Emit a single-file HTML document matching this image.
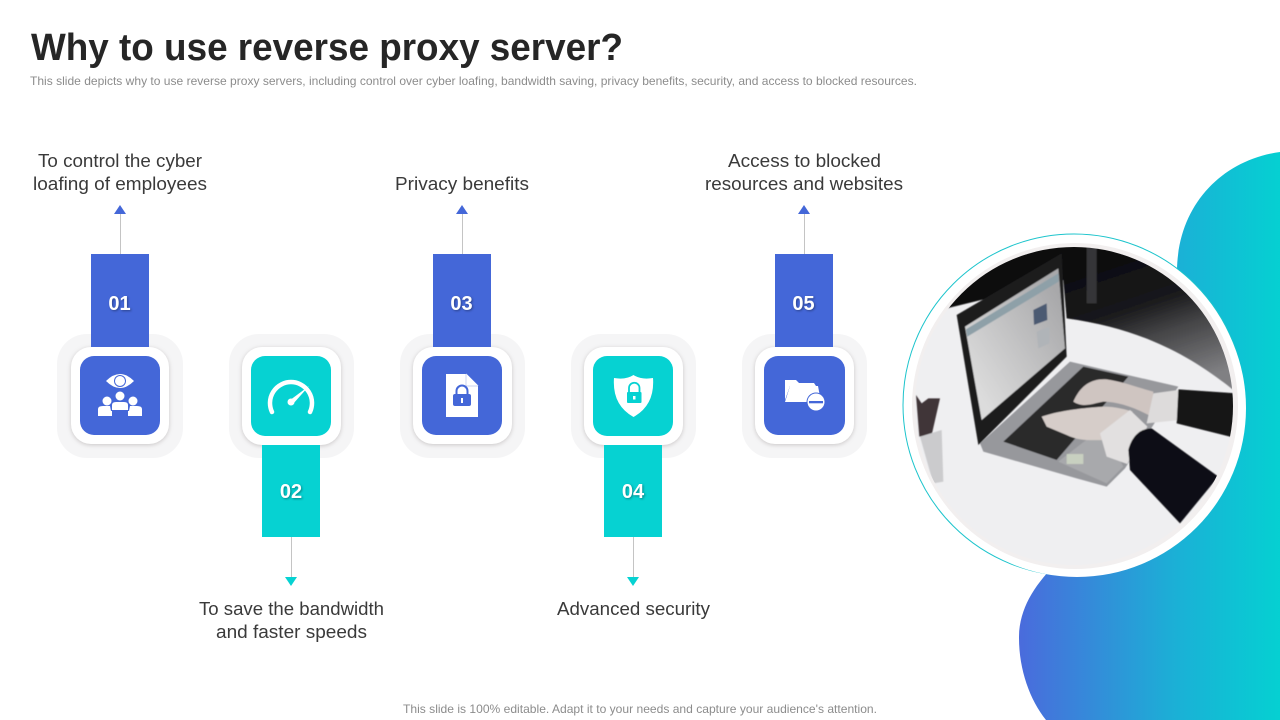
<!DOCTYPE html>
<html><head><meta charset="utf-8"><style>
html,body{margin:0;padding:0;background:#fff;width:1280px;height:720px;overflow:hidden}
svg{display:block}
text{font-family:"Liberation Sans",sans-serif}
.l{font-size:18px;fill:#3a3a3a}
.n{font-size:20px;font-weight:bold;fill:#fff;filter:drop-shadow(1px 1px 1px rgba(0,0,0,.35))}
.s{font-size:12px;fill:#8c8c8c}
.w{filter:drop-shadow(0 1px 2px rgba(90,80,80,.28))}
</style></head><body>
<svg width="1280" height="720" viewBox="0 0 1280 720" xmlns="http://www.w3.org/2000/svg">
<defs>
<linearGradient id="g" gradientUnits="userSpaceOnUse" x1="1019" y1="0" x2="1280" y2="0"><stop offset="0" stop-color="#4a6bdc"/><stop offset=".6" stop-color="#1bb0d6"/><stop offset="1" stop-color="#05d0d2"/></linearGradient>
<linearGradient id="dk" gradientUnits="userSpaceOnUse" x1="720" y1="320" x2="860" y2="740"><stop offset="0" stop-color="#0c0c0e"/><stop offset=".4" stop-color="#1a1a1c"/><stop offset=".62" stop-color="#454547"/><stop offset="1" stop-color="#808083"/></linearGradient>
<linearGradient id="sc" gradientUnits="userSpaceOnUse" x1="225" y1="700" x2="530" y2="500"><stop offset="0" stop-color="#dcdcdc"/><stop offset="1" stop-color="#a8a8aa"/></linearGradient>
<clipPath id="c"><circle cx="1074" cy="406" r="159"/></clipPath>
<filter id="b" x="-5%" y="-5%" width="110%" height="110%"><feGaussianBlur stdDeviation="1.800"/></filter>
</defs>

<text x="31" y="60" font-size="38" font-weight="bold" fill="#262626" textLength="592" lengthAdjust="spacingAndGlyphs">Why to use reverse proxy server?</text>
<text class="s" x="30" y="85" textLength="887" lengthAdjust="spacingAndGlyphs">This slide depicts why to use reverse proxy  servers, including control over cyber loafing, bandwidth saving, privacy  benefits, security, and access to blocked resources.</text>

<!-- blob -->
<path d="M1280 152 C1222 160 1178 205 1177 270 L1177 460 C1130 520 1019 560 1019 638 C1019 670 1030 700 1046 720 L1280 720 Z" fill="url(#g)"/>

<!-- photo -->
<circle cx="1074" cy="405" r="171" fill="#fff" stroke="#1cc4cc" stroke-width="1"/>
<circle cx="1077" cy="408" r="169" fill="#fff"/>
<circle cx="1075" cy="406" r="163" fill="#f2efef"/>
<g clip-path="url(#c)">
<rect x="900" y="230" width="350" height="350" fill="#efeff1"/>
<g transform="translate(890 140) scale(.33333)" filter="url(#b)">
<path d="M150 510 L150 260 L1080 260 L1080 790 L1030 750 C900 645 750 565 530 535 L520 420 Z" fill="url(#dk)"/>
<path d="M590 320 h30 v170 h-30 Z" fill="#353537"/>
<path d="M270 910 L540 665 L865 740 L705 985 L650 1040 L560 1015 L280 935 Z" fill="#97989c"/>
<path d="M340 905 L580 680 L715 710 L500 960 Z" fill="#29292b"/>
<path d="M505 965 L640 860 L700 980 L650 1030 Z" fill="#a8a9ac"/>
<path d="M530 942 h50 v30 h-50 Z" fill="#c8d0c0"/>
<path d="M200 525 L515 340 L530 650 L265 915 Z" fill="#1c1c1e"/>
<path d="M225 560 L505 385 L525 625 L275 840 Z" fill="url(#sc)"/>
<path d="M228 568 L505 400 L506 425 L232 590 Z" fill="#8ea0a8"/>
<path d="M430 510 L470 490 L472 540 L432 555 Z" fill="#4c5a72"/>
<path d="M440 575 L478 560 L478 610 L445 625 Z" fill="#b0b4b8"/>
<path d="M550 785 C570 740 600 715 650 718 C700 725 750 745 790 755 L785 830 C730 800 680 785 640 785 C610 790 580 805 550 785Z" fill="#cfc5c1"/>
<path d="M455 830 C500 815 560 805 640 800 C680 800 710 810 728 815 L650 900 C610 900 570 905 530 885 L470 860 Z" fill="#d6cdc9"/>
<path d="M790 760 L865 750 L868 840 L770 850 Z" fill="#dddbdb"/>
<path d="M630 880 L720 810 L772 860 L712 972 L650 950 Z" fill="#e2e0e0"/>
<path d="M865 748 L1040 760 L1040 895 L860 850 Z" fill="#121214"/>
<path d="M715 930 C725 890 750 865 785 865 L985 1010 L870 1150 L720 990 Z" fill="#111113"/>
<path d="M78 765 L95 790 L115 775 L150 775 L125 885 L88 890 Z" fill="#403638"/>
<path d="M90 890 L155 870 L160 1025 L130 1030 Z" fill="#cbcbcd"/>
</g>
</g>

<!-- connectors -->
<g stroke="#c4c4c4" stroke-width="1">
<path d="M120.500 214V254M462.500 214V254M804.500 214V254M291.500 537V577M633.500 537V577"/>
</g>
<path d="M120 205l6 9h-12zM462 205l6 9h-12zM804 205l6 9h-12z" fill="#4467d8"/>
<path d="M291 586l-6-9h12zM633 586l-6-9h12z" fill="#06d2d2"/>

<!-- plates -->
<g fill="#f5f5f6">
<rect x="57" y="334" width="126" height="124" rx="30"/>
<rect x="229" y="334" width="125" height="124" rx="30"/>
<rect x="400" y="334" width="125" height="124" rx="30"/>
<rect x="571" y="334" width="125" height="124" rx="30"/>
<rect x="742" y="334" width="125" height="124" rx="30"/>
</g>
<g fill="#fff" class="w">
<rect x="71" y="347" width="98" height="97" rx="20"/>
<rect x="242" y="347" width="99" height="98" rx="20"/>
<rect x="413" y="347" width="99" height="97" rx="20"/>
<rect x="584" y="347" width="99" height="98" rx="20"/>
<rect x="755" y="347" width="99" height="97" rx="20"/>
</g>
<rect x="80" y="356" width="80" height="79" rx="14" fill="#4467d8"/>
<rect x="251" y="356" width="80" height="80" rx="14" fill="#06d2d2"/>
<rect x="422" y="356" width="80" height="79" rx="14" fill="#4467d8"/>
<rect x="593" y="356" width="80" height="80" rx="14" fill="#06d2d2"/>
<rect x="764" y="356" width="81" height="79" rx="14" fill="#4467d8"/>

<!-- bars -->
<rect x="91" y="254" width="58" height="93" fill="#4467d8"/>
<rect x="433" y="254" width="58" height="93" fill="#4467d8"/>
<rect x="775" y="254" width="58" height="93" fill="#4467d8"/>
<rect x="262" y="445" width="58" height="92" fill="#06d2d2"/>
<rect x="604" y="445" width="58" height="92" fill="#06d2d2"/>
<g class="n" text-anchor="middle">
<text x="119.500" y="310">01</text>
<text x="291" y="498">02</text>
<text x="461.500" y="310">03</text>
<text x="633" y="498">04</text>
<text x="803.500" y="310">05</text>
</g>

<!-- icon 1 -->
<g fill="#fff">
<path d="M106 381 Q120 367 134 381 Q120 395 106 381Z"/>
<circle cx="120" cy="381" r="6" fill="#4467d8"/>
<circle cx="120" cy="381" r="5" fill="#fff"/>
<circle cx="120" cy="396" r="4.500"/>
<circle cx="107" cy="401" r="4.500"/>
<circle cx="133" cy="401" r="4.500"/>
<path d="M98 416 V409 Q98 406 103 406 H110 L111 411 H112 V416Z"/>
<path d="M142 416 V409 Q142 406 137 406 H130 L129 411 H128 V416Z"/>
<path d="M112 410 V405 Q112 402 116 402 H124 Q128 402 128 405 V410Z"/>
</g>
<!-- icon 2 -->
<path d="M272 412 A21 21 0 1 1 310 412" fill="none" stroke="#fff" stroke-width="4.500" stroke-linecap="round"/>
<circle cx="291" cy="402" r="3.500" fill="#fff"/>
<path d="M289.500 400.500 L309 386 L293 404Z" fill="#fff"/>
<!-- icon 3 -->
<path d="M446 374 H466 L478 386 V417 H446Z" fill="#fff"/>
<path d="M466 374 L478 386" stroke="#fff" stroke-width="1"/>
<path d="M466 374 V386 H478" fill="none" stroke="#b9c4ea" stroke-width=".7"/>
<rect x="453" y="394" width="18" height="12" rx="2" fill="#4467d8"/>
<path d="M456.500 394 V391 A5.500 5.500 0 0 1 467.500 391 V394" fill="none" stroke="#4467d8" stroke-width="2"/>
<rect x="461" y="398" width="2" height="5" fill="#fff"/>
<!-- icon 4 -->
<path d="M614 378 Q626 380 633.500 375 Q641 380 653 378 Q655 405 633.500 417 Q612 405 614 378Z" fill="#fff"/>
<rect x="627" y="392" width="14.500" height="11" rx="1" fill="#06d2d2"/>
<path d="M629 392 V388 A5 5 0 0 1 639.500 388 V392" fill="none" stroke="#06d2d2" stroke-width="1.800"/>
<rect x="633" y="396" width="2.500" height="3.500" fill="#fff"/>
<!-- icon 5 -->
<path d="M785 380 H796 L799 383 H814 L816 386 H790 L785 400Z" fill="#fff"/>
<path d="M790 386 H818 L821 402 H785 Z" fill="#fff"/>
<circle cx="816" cy="402" r="9.500" fill="#4467d8"/>
<circle cx="816" cy="402" r="8.500" fill="#fff"/>
<rect x="809" y="401" width="14" height="2.300" fill="#4467d8"/>

<!-- labels -->
<g class="l">
<text x="38" y="167" textLength="164" lengthAdjust="spacingAndGlyphs">To control the cyber</text>
<text x="33" y="190" textLength="174" lengthAdjust="spacingAndGlyphs">loafing of employees</text>
<text x="395" y="190" textLength="134" lengthAdjust="spacingAndGlyphs">Privacy benefits</text>
<text x="728" y="167" textLength="153" lengthAdjust="spacingAndGlyphs">Access to blocked</text>
<text x="705" y="190" textLength="198" lengthAdjust="spacingAndGlyphs">resources and websites</text>
<text x="199" y="615" textLength="185" lengthAdjust="spacingAndGlyphs">To save the bandwidth</text>
<text x="216" y="638" textLength="151" lengthAdjust="spacingAndGlyphs">and faster speeds</text>
<text x="557" y="615" textLength="153" lengthAdjust="spacingAndGlyphs">Advanced security</text>
</g>
<text class="s" x="403" y="713" textLength="474" lengthAdjust="spacingAndGlyphs">This slide is 100% editable. Adapt it to your needs and capture your audience's attention.</text>
</svg>
</body></html>
